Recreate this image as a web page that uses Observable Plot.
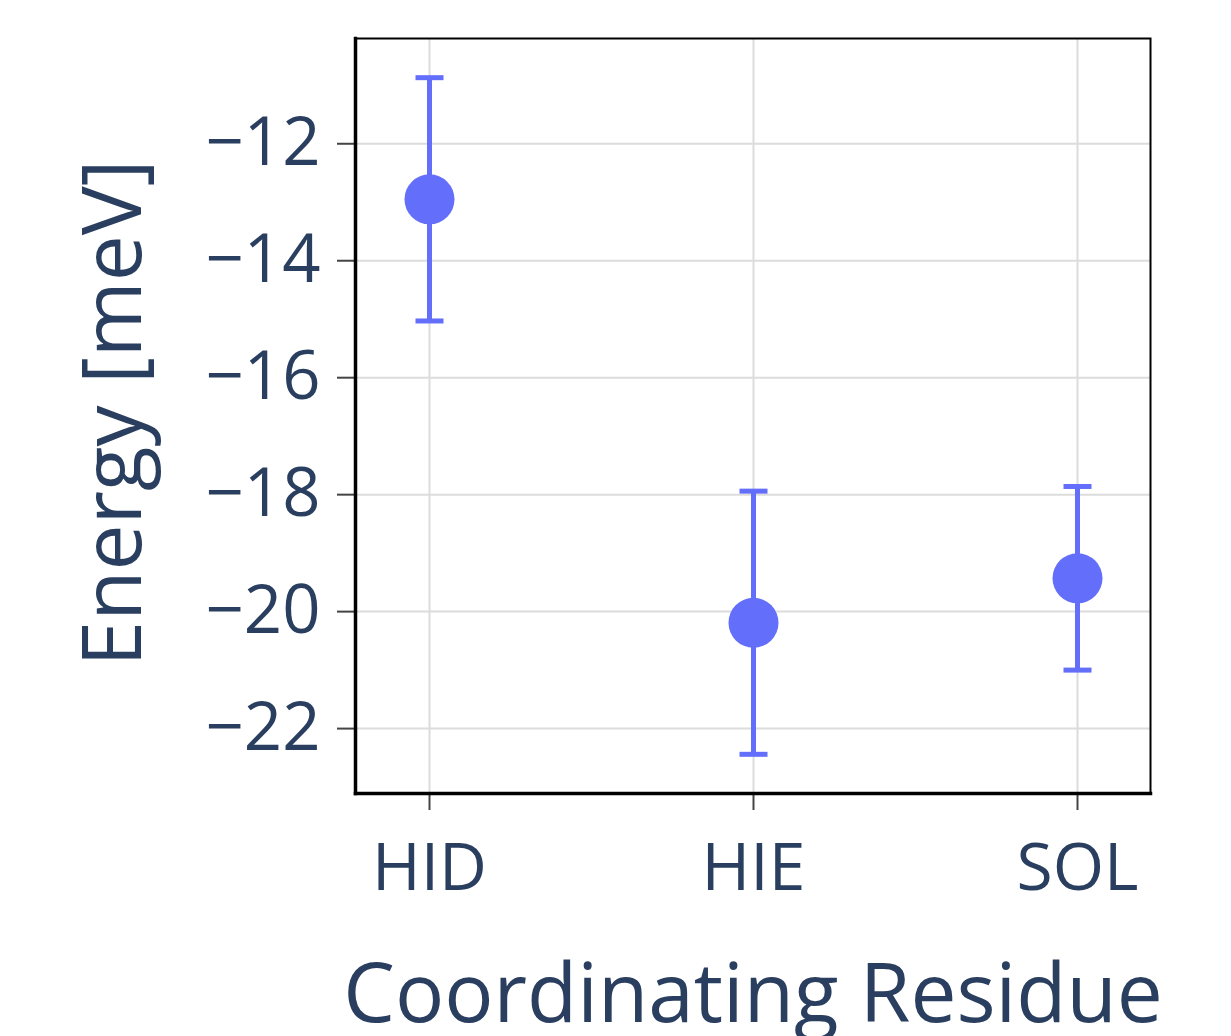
<!DOCTYPE html>
<html>
<head>
<meta charset="utf-8">
<script src="https://cdn.jsdelivr.net/npm/d3@7"></script>
<script src="https://cdn.jsdelivr.net/npm/@observablehq/plot@0.6"></script>
<style>
  html, body { margin: 0; padding: 0; background: #fff; }
  #chart svg { display: block; }
</style>
</head>
<body>
<div id="chart"></div>
<script>
const categories = ["HID", "HIE", "SOL"];
const energies = [-12.95, -20.19, -19.43];
const errors = [2.08, 2.25, 1.57];
const yTicks = [-22, -20, -18, -16, -14, -12];
const yDomain = [-23.11, -10.2];
const xTitle = "Coordinating Residue";
const yTitle = "Energy [meV]";

const data = categories.map((c, i) => ({
  cat: c, y: energies[i], lo: energies[i] - errors[i], hi: energies[i] + errors[i]
}));

const color = "#636efa";
const capSymbol = {
  draw(context) {
    context.moveTo(-14, 0);
    context.lineTo(14, 0);
  }
};

const chart = Plot.plot({
  width: 1231,
  height: 1036,
  marginLeft: 355,
  marginRight: 81,
  marginTop: 38,
  marginBottom: 243,
  style: { fontFamily: "'Open Sans', sans-serif", color: "#2a3f5f", background: "#fff" },
  x: { type: "point", domain: categories, padding: 0.225 },
  y: { domain: yDomain },
  marks: [
    Plot.gridX(categories, { stroke: "#dcdcdc", strokeOpacity: 1, strokeWidth: 2 }),
    Plot.gridY(yTicks, { stroke: "#dcdcdc", strokeOpacity: 1, strokeWidth: 2 }),
    Plot.axisX(categories, { tickSize: 17, tickPadding: 33, fontSize: 66, stroke: "#444", strokeWidth: 2, label: null }),
    Plot.axisY(yTicks, { tickSize: 18, tickPadding: 17, fontSize: 67, stroke: "#444", strokeWidth: 2, label: null, tickFormat: d3.format("d") }),
    Plot.frame({ stroke: "#000", strokeWidth: 2 }),
    Plot.frame({ anchor: "left", stroke: "#000", strokeWidth: 3.5 }),
    Plot.frame({ anchor: "bottom", stroke: "#000", strokeWidth: 3.5 }),
    Plot.ruleX(data, { x: "cat", y1: "lo", y2: "hi", stroke: color, strokeWidth: 5 }),
    Plot.dot(data, { x: "cat", y: "lo", symbol: capSymbol, stroke: color, strokeWidth: 5, fill: "none" }),
    Plot.dot(data, { x: "cat", y: "hi", symbol: capSymbol, stroke: color, strokeWidth: 5, fill: "none" }),
    Plot.dot(data, { x: "cat", y: "y", r: 25, fill: color, stroke: "none" }),
    Plot.text([xTitle], { frameAnchor: "bottom", lineAnchor: "top", dy: 170, fontSize: 82, fill: "#2a3f5f" }),
    Plot.text([yTitle], { frameAnchor: "left", textAnchor: "middle", lineAnchor: "top", rotate: -90, dx: -273, dy: -3, fontSize: 82, fill: "#2a3f5f" })
  ]
});
document.getElementById("chart").appendChild(chart);
</script>
</body>
</html>
